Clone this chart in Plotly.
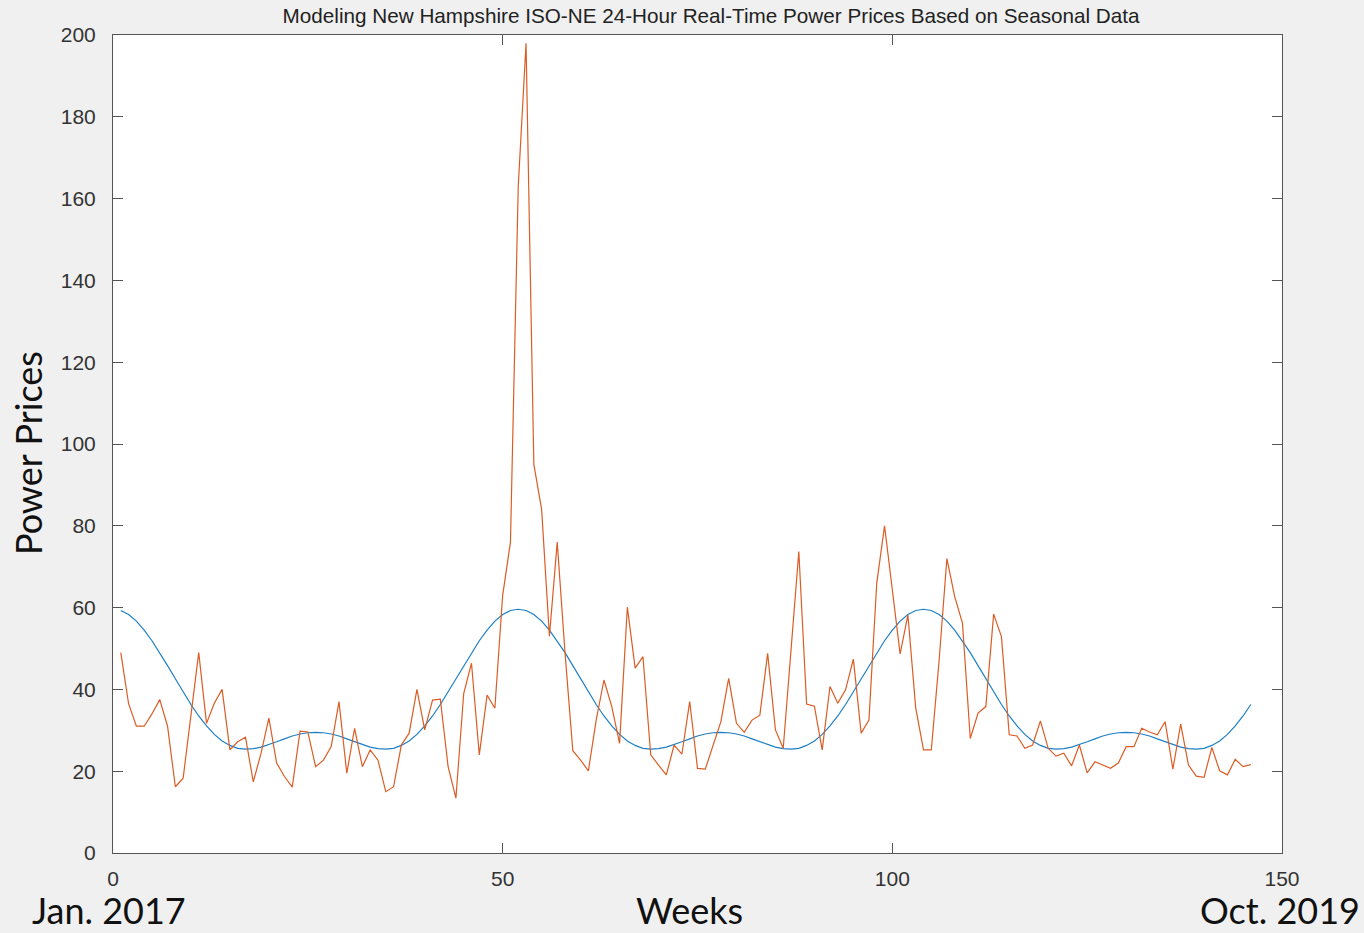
import plotly.graph_objects as go

weeks = list(range(1, 147))

prices = [
    49, 36.5, 31, 31, 34, 37.5, 31, 16.2, 18.3, 33,
    49, 31.7, 36.6, 40, 25.2, 27.2, 28.3, 17.4, 24.4, 33,
    22, 18.7, 16.1, 29.8, 29.6, 21.1, 22.7, 26, 37, 19.5,
    30.5, 21.1, 25.2, 22.7, 15, 16.2, 26.4, 29.3, 40, 30.1,
    37.4, 37.6, 21.1, 13.4, 39, 46.4, 24, 38.6, 35.4, 63,
    76, 163, 198, 95, 84, 53, 76, 49, 25, 22.7,
    20.1, 32.5, 42.3, 35.8, 26.8, 60.1, 45.2, 48, 24, 21.5,
    19.1, 26.4, 24.2, 37, 20.7, 20.5, 26.4, 32.1, 42.7, 31.7,
    29.5, 32.5, 33.7, 48.8, 30.1, 25.6, 49.6, 73.7, 36.4, 35.9,
    25.2, 40.7, 36.6, 39.9, 47.4, 29.3, 32.5, 66, 80, 64,
    48.7, 58.2, 35.5, 25.2, 25.2, 47, 72, 62.7, 56.2, 28,
    34.2, 35.8, 58.4, 52.9, 28.9, 28.6, 25.6, 26.4, 32.3, 25.6,
    23.7, 24.4, 21.3, 26.4, 19.6, 22.3, 21.5, 20.7, 22, 26,
    26, 30.5, 29.6, 28.9, 32.1, 20.5, 31.5, 21.5, 18.8, 18.5,
    25.8, 20.1, 19.1, 22.9, 21.1, 21.6,
]

seasonal_fit = [
    59.3, 58.3, 56.7, 54.5, 51.9, 49.0, 45.8, 42.6, 39.4, 36.3,
    33.5, 31.1, 29.0, 27.4, 26.3, 25.6, 25.4, 25.5, 25.9, 26.5,
    27.2, 27.9, 28.6, 29.1, 29.4, 29.5,
    29.4, 29.1, 28.6, 27.9, 27.2, 26.5, 25.9, 25.5, 25.4, 25.6,
    26.3, 27.4, 29.0, 31.1, 33.5, 36.3, 39.4, 42.6, 45.8, 49.0,
    51.9, 54.5, 56.7, 58.3, 59.3, 59.6,
    59.3, 58.3, 56.7, 54.5, 51.9, 49.0, 45.8, 42.6, 39.4, 36.3,
    33.5, 31.1, 29.0, 27.4, 26.3, 25.6, 25.4, 25.5, 25.9, 26.5,
    27.2, 27.9, 28.6, 29.1, 29.4, 29.5,
    29.4, 29.1, 28.6, 27.9, 27.2, 26.5, 25.9, 25.5, 25.4, 25.6,
    26.3, 27.4, 29.0, 31.1, 33.5, 36.3, 39.4, 42.6, 45.8, 49.0,
    51.9, 54.5, 56.7, 58.3, 59.3, 59.6,
    59.3, 58.3, 56.7, 54.5, 51.9, 49.0, 45.8, 42.6, 39.4, 36.3,
    33.5, 31.1, 29.0, 27.4, 26.3, 25.6, 25.4, 25.5, 25.9, 26.5,
    27.2, 27.9, 28.6, 29.1, 29.4, 29.5,
    29.4, 29.1, 28.6, 27.9, 27.2, 26.5, 25.9, 25.5, 25.4, 25.6,
    26.3, 27.4, 29.0, 31.1, 33.5, 36.3,
]

x_ticks = [0, 50, 100, 150]
y_ticks = [0, 20, 40, 60, 80, 100, 120, 140, 160, 180, 200]

title_text = "Modeling New Hampshire ISO-NE 24-Hour Real-Time Power Prices Based on Seasonal Data"
y_label = "Power Prices"
x_label = "Weeks"
start_label = "Jan. 2017"
end_label = "Oct. 2019"

fig = go.Figure()
fig.add_trace(go.Scatter(x=weeks, y=seasonal_fit, mode="lines",
                         line=dict(color="#1f7fc4", width=1.2), name="Seasonal model"))
fig.add_trace(go.Scatter(x=weeks, y=prices, mode="lines",
                         line=dict(color="#dc5c25", width=1.2), name="Real-time price"))

axis_common = dict(showline=True, linecolor="#555555", linewidth=1, mirror="ticks",
                   ticks="inside", ticklen=10, tickcolor="#555555", tickwidth=1,
                   showgrid=False, zeroline=False,
                   tickfont=dict(family="Liberation Sans, Arial, sans-serif", size=21, color="#333333"))

fig.update_xaxes(range=[0, 150], tickvals=x_ticks, ticklabelstandoff=7, **axis_common)
fig.update_yaxes(range=[0, 200], tickvals=y_ticks, ticklabelstandoff=12, **axis_common)

big_font = dict(family="Lato, Open Sans, sans-serif", size=36, color="#111111")

fig.update_layout(
    width=1364, height=933,
    margin=dict(l=113, r=82, t=35, b=80),
    paper_bgcolor="#f0f0f0", plot_bgcolor="#ffffff",
    showlegend=False,
    title=dict(text=title_text, x=0.5116, xref="paper", xanchor="center",
               y=1 - 16 / 933, yref="container", yanchor="middle",
               font=dict(family="Liberation Sans, Arial, sans-serif", size=20.7, color="#222222")),
    annotations=[
        dict(text=y_label, x=(28 - 113) / 1169, y=(853 - 453) / 818, xref="paper", yref="paper",
             textangle=-90, showarrow=False, font=big_font, xanchor="center", yanchor="middle"),
        dict(text=x_label, x=(689 - 113) / 1169, y=(853 - 910) / 818, xref="paper", yref="paper",
             showarrow=False, font=big_font, xanchor="center", yanchor="middle"),
        dict(text=start_label, x=(109 - 113) / 1169, y=(853 - 910) / 818, xref="paper", yref="paper",
             showarrow=False, font=big_font, xanchor="center", yanchor="middle"),
        dict(text=end_label, x=(1280 - 113) / 1169, y=(853 - 910) / 818, xref="paper", yref="paper",
             showarrow=False, font=big_font, xanchor="center", yanchor="middle"),
    ],
)

fig.write_html("out.html", config={"displayModeBar": False},
               post_script="document.body.style.margin='0';")
